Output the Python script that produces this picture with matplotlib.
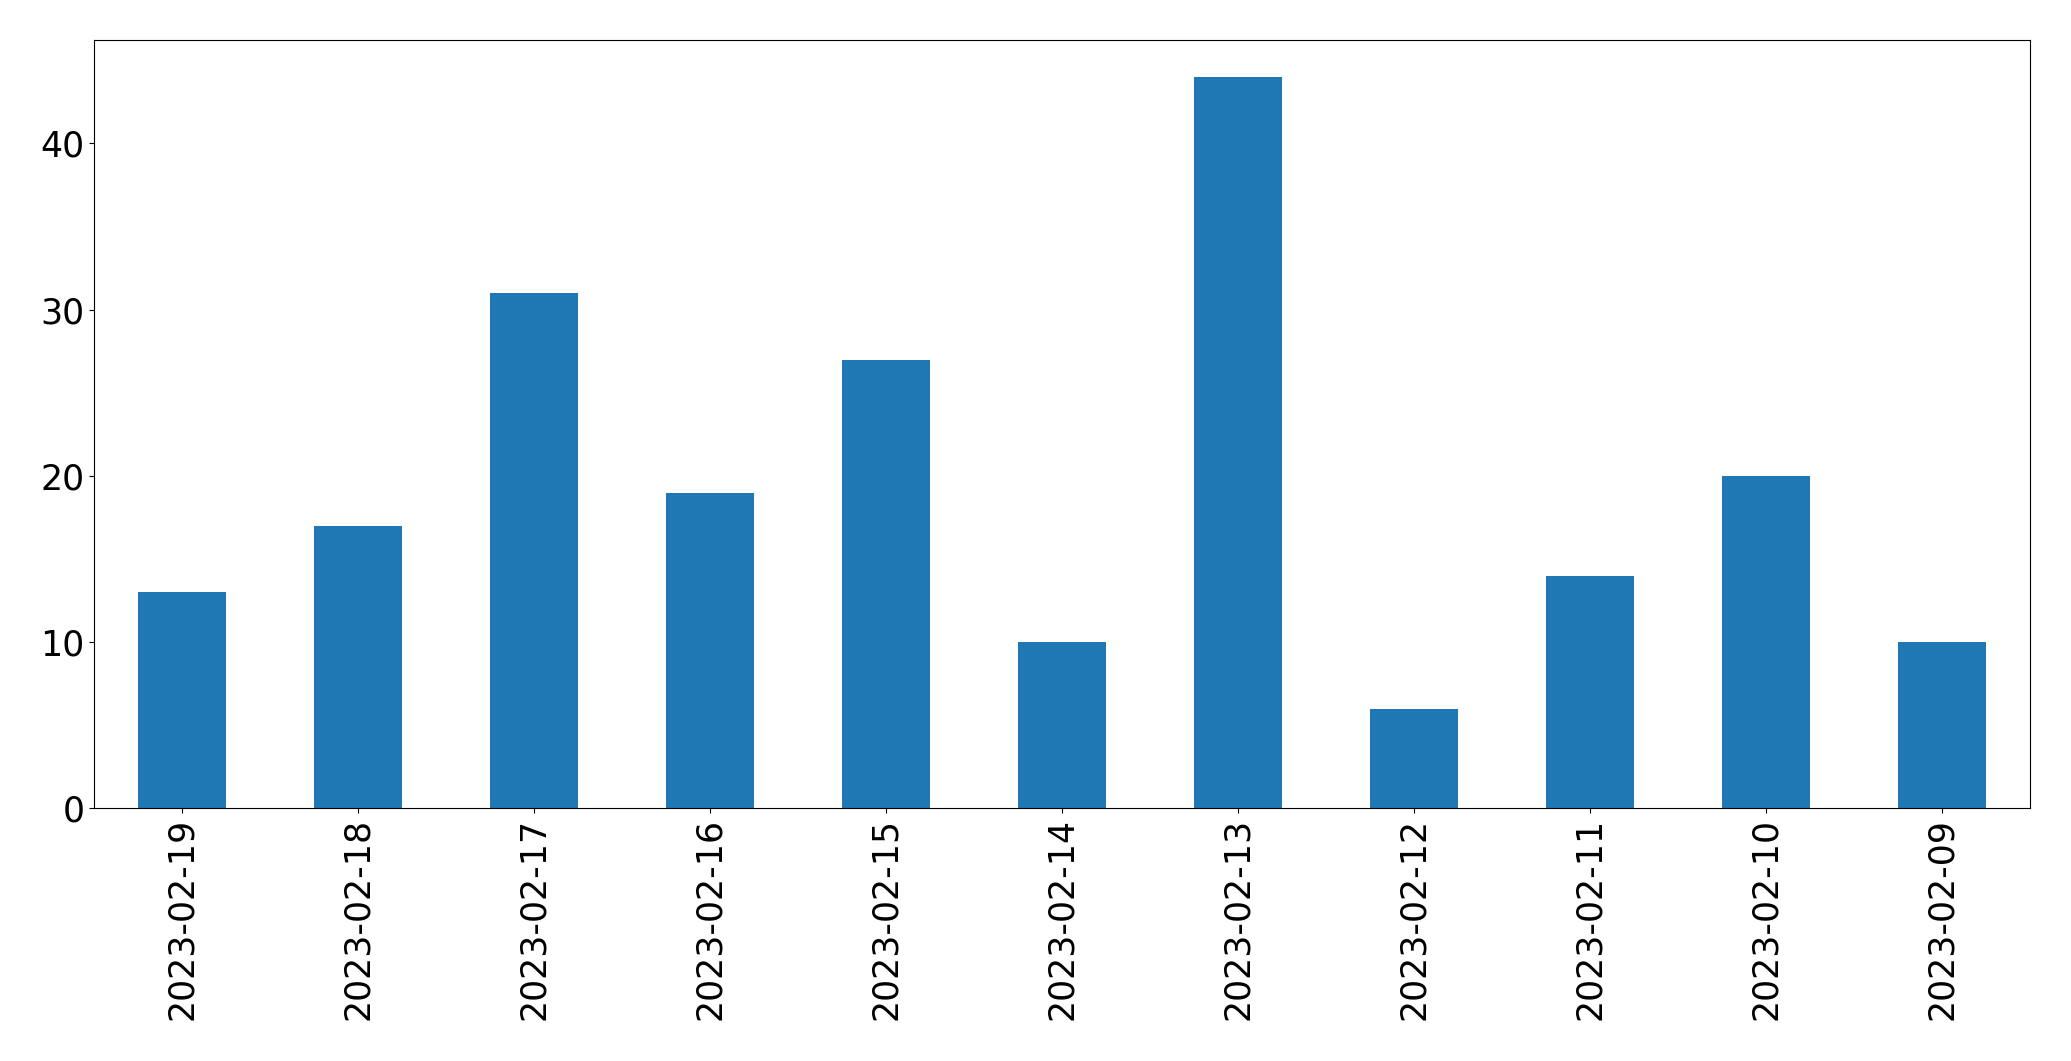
import numpy as np
import pandas as pd
from matplotlib import pyplot as plt

dates = ['2023-02-19', '2023-02-18', '2023-02-17', '2023-02-16', '2023-02-15', '2023-02-14',
         '2023-02-13', '2023-02-12', '2023-02-11', '2023-02-10', '2023-02-09']
counts = [13, 17, 31, 19, 27, 10, 44, 6, 14, 20, 10]

s = pd.Series(counts, index=dates)

fig = plt.figure(figsize=(20.71, 10.61), dpi=100)
ax = fig.add_axes([0.0454, 0.238, 0.9346, 0.724])
s.plot(kind='bar', ax=ax, color='#1f77b4')
ax.tick_params(axis='both', labelsize=25)
plt.savefig('out.png', dpi=100)
